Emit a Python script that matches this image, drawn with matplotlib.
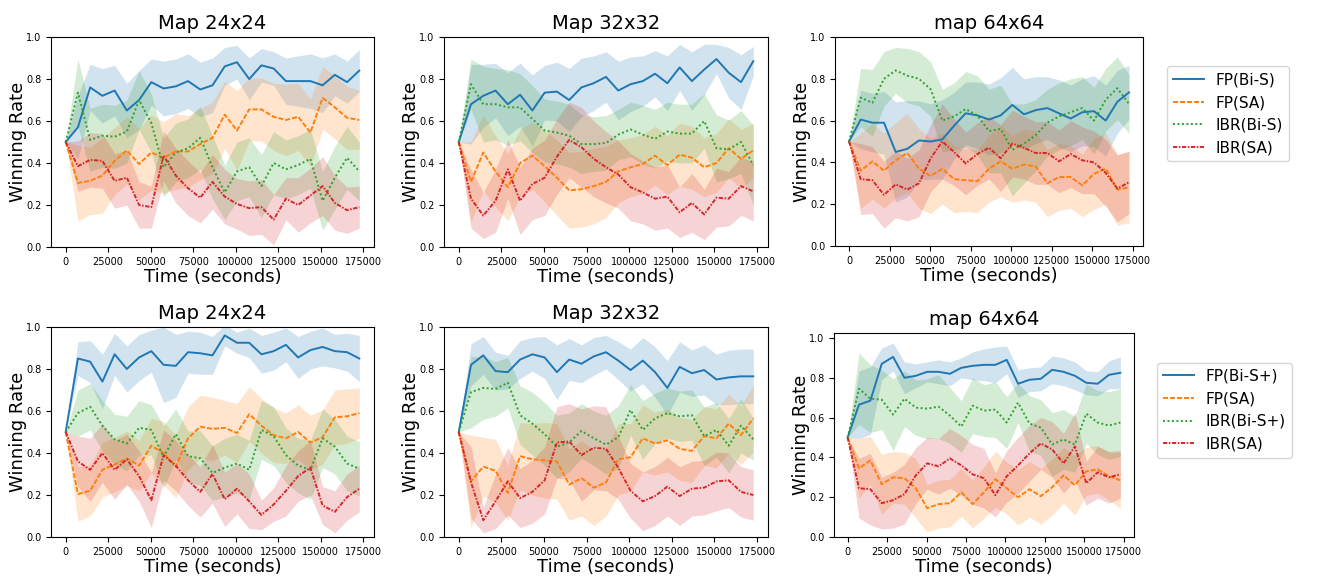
import matplotlib
matplotlib.use("Agg")
import matplotlib.pyplot as plt
import numpy as np

# time axis: one sample every 2 hours, 0 .. 48h
time_s = np.arange(25) * 7200

labels_top = ["FP(Bi-S)", "FP(SA)", "IBR(Bi-S)", "IBR(SA)"]
labels_bot = ["FP(Bi-S+)", "FP(SA)", "IBR(Bi-S+)", "IBR(SA)"]
titles = ["Map 24x24", "Map 32x32", "map 64x64"]

# ---- top row, Map 24x24 ----
t24_fp_bis = [0.5, 0.57, 0.76, 0.72, 0.745, 0.65, 0.70, 0.785, 0.755, 0.765, 0.79, 0.75, 0.77,
              0.86, 0.88, 0.80, 0.865, 0.85, 0.79, 0.79, 0.79, 0.77, 0.82, 0.785, 0.84]
t24_fp_bis_err = [0, 0.15, 0.11, 0.13, 0.12, 0.13, 0.14, 0.11, 0.13, 0.13, 0.13, 0.13, 0.13,
                  0.09, 0.08, 0.10, 0.08, 0.08, 0.11, 0.12, 0.13, 0.13, 0.10, 0.10, 0.10]
t24_fp_sa = [0.5, 0.305, 0.315, 0.34, 0.41, 0.46, 0.395, 0.45, 0.425, 0.455, 0.455, 0.49, 0.52,
             0.63, 0.555, 0.655, 0.655, 0.62, 0.605, 0.62, 0.545, 0.71, 0.665, 0.615, 0.605]
t24_fp_sa_err = [0, 0.18, 0.16, 0.18, 0.16, 0.16, 0.17, 0.18, 0.17, 0.18, 0.17, 0.17, 0.17,
                 0.16, 0.19, 0.15, 0.15, 0.16, 0.17, 0.16, 0.16, 0.15, 0.15, 0.15, 0.14]
t24_ibr_bis = [0.5, 0.735, 0.51, 0.53, 0.525, 0.55, 0.70, 0.59, 0.38, 0.45, 0.47, 0.52, 0.38,
               0.26, 0.36, 0.38, 0.29, 0.40, 0.37, 0.39, 0.42, 0.22, 0.33, 0.425, 0.36]
t24_ibr_bis_err = [0, 0.16, 0.15, 0.15, 0.15, 0.15, 0.14, 0.14, 0.14, 0.14, 0.14, 0.15, 0.15,
                   0.13, 0.14, 0.14, 0.15, 0.15, 0.14, 0.14, 0.14, 0.14, 0.15, 0.15, 0.14]
t24_ibr_sa = [0.5, 0.385, 0.415, 0.41, 0.315, 0.33, 0.20, 0.19, 0.435, 0.34, 0.28, 0.235, 0.31,
              0.24, 0.205, 0.185, 0.19, 0.13, 0.23, 0.20, 0.245, 0.29, 0.21, 0.175, 0.19]
t24_ibr_sa_err = [0, 0.12, 0.13, 0.13, 0.13, 0.13, 0.11, 0.10, 0.12, 0.13, 0.13, 0.12, 0.13,
                  0.13, 0.12, 0.13, 0.13, 0.12, 0.10, 0.13, 0.13, 0.14, 0.13, 0.11, 0.10]

# ---- top row, Map 32x32 ----
t32_fp_bis = [0.5, 0.68, 0.72, 0.745, 0.68, 0.725, 0.65, 0.735, 0.74, 0.70, 0.76, 0.78, 0.81,
              0.745, 0.775, 0.79, 0.825, 0.78, 0.855, 0.79, 0.845, 0.895, 0.83, 0.785, 0.885]
t32_fp_bis_err = [0, 0.19, 0.15, 0.13, 0.15, 0.15, 0.17, 0.13, 0.14, 0.15, 0.14, 0.13, 0.12,
                  0.14, 0.13, 0.12, 0.11, 0.13, 0.11, 0.14, 0.12, 0.07, 0.12, 0.13, 0.07]
t32_fp_sa = [0.5, 0.31, 0.45, 0.36, 0.285, 0.40, 0.435, 0.385, 0.33, 0.27, 0.275, 0.29, 0.31,
             0.36, 0.38, 0.395, 0.435, 0.39, 0.44, 0.425, 0.38, 0.40, 0.47, 0.42, 0.46]
t32_fp_sa_err = [0, 0.19, 0.18, 0.17, 0.16, 0.16, 0.16, 0.17, 0.18, 0.18, 0.18, 0.18, 0.17,
                 0.15, 0.14, 0.14, 0.14, 0.14, 0.15, 0.15, 0.14, 0.14, 0.14, 0.14, 0.13]
t32_ibr_bis = [0.5, 0.775, 0.68, 0.68, 0.665, 0.665, 0.61, 0.555, 0.545, 0.53, 0.49, 0.49, 0.495,
               0.535, 0.56, 0.535, 0.515, 0.55, 0.54, 0.54, 0.60, 0.47, 0.465, 0.50, 0.39]
t32_ibr_bis_err = [0, 0.12, 0.18, 0.17, 0.18, 0.16, 0.16, 0.15, 0.15, 0.15, 0.14, 0.13, 0.13,
                   0.12, 0.13, 0.14, 0.14, 0.14, 0.14, 0.14, 0.13, 0.16, 0.14, 0.15, 0.19]
t32_ibr_sa = [0.5, 0.23, 0.15, 0.22, 0.37, 0.22, 0.30, 0.33, 0.43, 0.51, 0.475, 0.42, 0.38,
              0.345, 0.285, 0.26, 0.23, 0.24, 0.165, 0.21, 0.155, 0.235, 0.23, 0.29, 0.265]
t32_ibr_sa_err = [0, 0.14, 0.11, 0.15, 0.14, 0.16, 0.17, 0.18, 0.18, 0.18, 0.19, 0.18, 0.17,
                  0.16, 0.16, 0.15, 0.15, 0.15, 0.12, 0.14, 0.12, 0.14, 0.13, 0.14, 0.14]

# ---- top row, map 64x64 ----
t64_fp_bis = [0.5, 0.605, 0.59, 0.59, 0.45, 0.465, 0.505, 0.50, 0.51, 0.575, 0.635, 0.625, 0.605,
              0.625, 0.675, 0.63, 0.65, 0.66, 0.635, 0.61, 0.64, 0.645, 0.60, 0.69, 0.735]
t64_fp_bis_err = [0, 0.14, 0.14, 0.15, 0.24, 0.23, 0.19, 0.18, 0.19, 0.16, 0.15, 0.16, 0.17,
                  0.18, 0.18, 0.17, 0.16, 0.15, 0.16, 0.16, 0.16, 0.17, 0.17, 0.15, 0.13]
t64_fp_sa = [0.5, 0.36, 0.405, 0.36, 0.41, 0.445, 0.37, 0.335, 0.37, 0.32, 0.315, 0.31, 0.37,
             0.405, 0.37, 0.39, 0.38, 0.30, 0.33, 0.33, 0.29, 0.345, 0.37, 0.27, 0.28]
t64_fp_sa_err = [0, 0.18, 0.18, 0.18, 0.18, 0.19, 0.19, 0.18, 0.17, 0.16, 0.15, 0.15, 0.16,
                 0.17, 0.16, 0.17, 0.17, 0.16, 0.16, 0.15, 0.15, 0.17, 0.17, 0.17, 0.17]
t64_ibr_bis = [0.5, 0.71, 0.685, 0.80, 0.84, 0.815, 0.80, 0.75, 0.60, 0.62, 0.655, 0.625, 0.55,
               0.56, 0.46, 0.49, 0.53, 0.59, 0.62, 0.64, 0.66, 0.60, 0.70, 0.755, 0.68]
t64_ibr_bis_err = [0, 0.14, 0.16, 0.13, 0.11, 0.13, 0.13, 0.13, 0.15, 0.16, 0.18, 0.19, 0.20,
                   0.21, 0.22, 0.19, 0.17, 0.16, 0.16, 0.16, 0.15, 0.16, 0.15, 0.15, 0.14]
t64_ibr_sa = [0.5, 0.32, 0.315, 0.245, 0.295, 0.27, 0.30, 0.42, 0.50, 0.45, 0.395, 0.44, 0.47,
              0.42, 0.49, 0.47, 0.445, 0.445, 0.405, 0.44, 0.41, 0.40, 0.35, 0.275, 0.305]
t64_ibr_sa_err = [0, 0.17, 0.16, 0.16, 0.16, 0.15, 0.16, 0.16, 0.18, 0.16, 0.15, 0.15, 0.15,
                  0.16, 0.16, 0.15, 0.15, 0.15, 0.15, 0.16, 0.16, 0.15, 0.16, 0.16, 0.15]

# ---- bottom row, Map 24x24 ----
b24_fp_bis = [0.5, 0.85, 0.835, 0.74, 0.87, 0.80, 0.855, 0.885, 0.82, 0.815, 0.88, 0.875, 0.865,
              0.96, 0.925, 0.925, 0.87, 0.885, 0.915, 0.855, 0.89, 0.905, 0.885, 0.88, 0.85]
b24_fp_bis_err = [0, 0.08, 0.10, 0.13, 0.10, 0.11, 0.11, 0.10, 0.18, 0.15, 0.10, 0.10, 0.09,
                  0.05, 0.05, 0.07, 0.09, 0.09, 0.08, 0.10, 0.09, 0.09, 0.08, 0.09, 0.11]
b24_fp_sa = [0.5, 0.205, 0.22, 0.32, 0.345, 0.375, 0.34, 0.435, 0.40, 0.335, 0.47, 0.525, 0.515,
             0.52, 0.495, 0.585, 0.53, 0.485, 0.47, 0.50, 0.45, 0.475, 0.57, 0.575, 0.59]
b24_fp_sa_err = [0, 0.13, 0.12, 0.13, 0.13, 0.13, 0.12, 0.13, 0.15, 0.15, 0.15, 0.15, 0.15,
                 0.13, 0.14, 0.13, 0.13, 0.13, 0.12, 0.13, 0.13, 0.13, 0.13, 0.13, 0.12]
b24_ibr_bis = [0.5, 0.59, 0.62, 0.53, 0.465, 0.445, 0.52, 0.51, 0.38, 0.49, 0.385, 0.375, 0.305,
               0.33, 0.35, 0.32, 0.51, 0.48, 0.39, 0.34, 0.32, 0.47, 0.43, 0.35, 0.325]
b24_ibr_bis_err = [0, 0.11, 0.11, 0.12, 0.12, 0.13, 0.13, 0.12, 0.15, 0.12, 0.12, 0.13, 0.13,
                   0.14, 0.14, 0.14, 0.14, 0.14, 0.13, 0.13, 0.14, 0.14, 0.13, 0.13, 0.13]
b24_ibr_sa = [0.5, 0.36, 0.32, 0.40, 0.32, 0.37, 0.29, 0.175, 0.39, 0.34, 0.27, 0.215, 0.30,
              0.18, 0.23, 0.17, 0.105, 0.155, 0.22, 0.29, 0.33, 0.15, 0.12, 0.19, 0.23]
b24_ibr_sa_err = [0, 0.12, 0.15, 0.14, 0.14, 0.12, 0.12, 0.13, 0.12, 0.12, 0.12, 0.12, 0.14,
                  0.13, 0.12, 0.13, 0.07, 0.08, 0.12, 0.12, 0.13, 0.09, 0.10, 0.11, 0.11]

# ---- bottom row, Map 32x32 ----
b32_fp_bis = [0.5, 0.82, 0.865, 0.79, 0.785, 0.845, 0.87, 0.855, 0.785, 0.845, 0.825, 0.86, 0.88,
              0.84, 0.795, 0.84, 0.785, 0.71, 0.81, 0.78, 0.795, 0.75, 0.76, 0.765, 0.765]
b32_fp_bis_err = [0, 0.10, 0.09, 0.09, 0.08, 0.09, 0.08, 0.10, 0.13, 0.10, 0.09, 0.09, 0.08,
                  0.09, 0.10, 0.11, 0.12, 0.13, 0.12, 0.11, 0.12, 0.12, 0.13, 0.13, 0.13]
b32_fp_sa = [0.5, 0.265, 0.335, 0.315, 0.21, 0.385, 0.37, 0.365, 0.36, 0.25, 0.28, 0.235, 0.26,
             0.37, 0.38, 0.47, 0.445, 0.46, 0.42, 0.41, 0.48, 0.47, 0.54, 0.485, 0.565]
b32_fp_sa_err = [0, 0.22, 0.14, 0.15, 0.13, 0.16, 0.17, 0.18, 0.18, 0.17, 0.18, 0.18, 0.16,
                 0.17, 0.16, 0.16, 0.15, 0.15, 0.15, 0.15, 0.14, 0.14, 0.14, 0.14, 0.16]
b32_ibr_bis = [0.5, 0.69, 0.71, 0.705, 0.735, 0.58, 0.54, 0.49, 0.43, 0.45, 0.505, 0.47, 0.44,
               0.475, 0.605, 0.51, 0.565, 0.59, 0.575, 0.58, 0.48, 0.51, 0.435, 0.53, 0.465]
b32_ibr_bis_err = [0, 0.17, 0.15, 0.13, 0.12, 0.14, 0.15, 0.15, 0.15, 0.14, 0.13, 0.13, 0.14,
                   0.15, 0.12, 0.14, 0.12, 0.12, 0.12, 0.12, 0.14, 0.13, 0.13, 0.13, 0.10]
b32_ibr_sa = [0.5, 0.26, 0.08, 0.17, 0.265, 0.185, 0.215, 0.27, 0.45, 0.455, 0.39, 0.425, 0.42,
              0.33, 0.22, 0.17, 0.195, 0.24, 0.195, 0.23, 0.235, 0.265, 0.27, 0.215, 0.20]
b32_ibr_sa_err = [0, 0.17, 0.06, 0.13, 0.16, 0.14, 0.15, 0.16, 0.17, 0.18, 0.22, 0.20, 0.20,
                  0.15, 0.13, 0.14, 0.14, 0.14, 0.14, 0.13, 0.13, 0.14, 0.13, 0.12, 0.12]

# ---- bottom row, map 64x64 ----
b64_fp_bis = [0.5, 0.665, 0.685, 0.87, 0.905, 0.80, 0.81, 0.83, 0.83, 0.82, 0.85, 0.86, 0.865,
              0.865, 0.89, 0.77, 0.79, 0.795, 0.84, 0.83, 0.81, 0.775, 0.77, 0.815, 0.825]
b64_fp_bis_err = [0, 0.17, 0.17, 0.08, 0.07, 0.08, 0.06, 0.05, 0.06, 0.06, 0.05, 0.07, 0.08,
                  0.09, 0.07, 0.07, 0.06, 0.06, 0.07, 0.07, 0.07, 0.06, 0.06, 0.07, 0.08]
b64_fp_sa = [0.5, 0.345, 0.385, 0.265, 0.30, 0.295, 0.245, 0.145, 0.165, 0.17, 0.225, 0.165, 0.225,
             0.29, 0.245, 0.20, 0.24, 0.205, 0.25, 0.31, 0.26, 0.33, 0.34, 0.305, 0.285]
b64_fp_sa_err = [0, 0.15, 0.12, 0.15, 0.13, 0.13, 0.15, 0.12, 0.12, 0.12, 0.12, 0.12, 0.13,
                 0.14, 0.13, 0.14, 0.14, 0.14, 0.14, 0.14, 0.15, 0.12, 0.12, 0.12, 0.14]
b64_ibr_bis = [0.5, 0.745, 0.695, 0.69, 0.615, 0.695, 0.65, 0.645, 0.655, 0.61, 0.555, 0.66, 0.635,
               0.64, 0.575, 0.675, 0.57, 0.55, 0.465, 0.49, 0.465, 0.62, 0.575, 0.56, 0.575]
b64_ibr_bis_err = [0, 0.18, 0.17, 0.15, 0.18, 0.14, 0.14, 0.15, 0.16, 0.14, 0.13, 0.14, 0.13,
                   0.14, 0.13, 0.10, 0.14, 0.14, 0.16, 0.15, 0.14, 0.15, 0.16, 0.17, 0.17]
b64_ibr_sa = [0.5, 0.245, 0.24, 0.17, 0.185, 0.215, 0.31, 0.37, 0.355, 0.395, 0.36, 0.315, 0.295,
              0.21, 0.305, 0.36, 0.42, 0.47, 0.44, 0.37, 0.455, 0.27, 0.325, 0.30, 0.315]
b64_ibr_sa_err = [0, 0.15, 0.18, 0.13, 0.14, 0.15, 0.14, 0.13, 0.14, 0.15, 0.15, 0.15, 0.15,
                  0.11, 0.13, 0.14, 0.14, 0.13, 0.14, 0.15, 0.17, 0.11, 0.13, 0.13, 0.12]

panels = [
    [(t24_fp_bis, t24_fp_bis_err), (t24_fp_sa, t24_fp_sa_err), (t24_ibr_bis, t24_ibr_bis_err), (t24_ibr_sa, t24_ibr_sa_err)],
    [(t32_fp_bis, t32_fp_bis_err), (t32_fp_sa, t32_fp_sa_err), (t32_ibr_bis, t32_ibr_bis_err), (t32_ibr_sa, t32_ibr_sa_err)],
    [(t64_fp_bis, t64_fp_bis_err), (t64_fp_sa, t64_fp_sa_err), (t64_ibr_bis, t64_ibr_bis_err), (t64_ibr_sa, t64_ibr_sa_err)],
    [(b24_fp_bis, b24_fp_bis_err), (b24_fp_sa, b24_fp_sa_err), (b24_ibr_bis, b24_ibr_bis_err), (b24_ibr_sa, b24_ibr_sa_err)],
    [(b32_fp_bis, b32_fp_bis_err), (b32_fp_sa, b32_fp_sa_err), (b32_ibr_bis, b32_ibr_bis_err), (b32_ibr_sa, b32_ibr_sa_err)],
    [(b64_fp_bis, b64_fp_bis_err), (b64_fp_sa, b64_fp_sa_err), (b64_ibr_bis, b64_ibr_bis_err), (b64_ibr_sa, b64_ibr_sa_err)],
]

colors = ["#1f77b4", "#ff7f0e", "#2ca02c", "#d62728"]
# tighter dash patterns than the defaults, like the original figure
styles = ["-", (0, (2.6, 1.0)), (0, (1.0, 1.3)), (0, (2.2, 0.8, 0.8, 0.8))]

W, H = 1326, 577
# axes boxes in pixels: left, top, width, height
boxes = [(51, 37, 323, 210), (444, 37, 324, 210), (835, 37, 308, 209),
         (51, 327, 323, 210), (444, 327, 324, 210), (834, 333, 300, 204)]

fig = plt.figure(figsize=(W / 100, H / 100), dpi=100)

for k, (l, t, w, h) in enumerate(boxes):
    ax = fig.add_axes([l / W, 1 - (t + h) / H, w / W, h / H])
    names = labels_top if k < 3 else labels_bot
    for j, (mean, err) in enumerate(panels[k]):
        m = np.array(mean)
        e = np.array(err)
        ax.fill_between(time_s, m - e, m + e, color=colors[j], alpha=0.2, linewidth=0)
        ax.plot(time_s, m, color=colors[j], linestyle=styles[j], linewidth=1.4, label=names[j])
    ax.set_title(titles[k % 3], fontsize=14)
    ax.set_xlabel("Time (seconds)", fontsize=13, labelpad=1)
    ax.set_ylabel("Winning Rate", fontsize=13, labelpad=-1)
    ax.tick_params(labelsize=7)
    ax.set_xticks([0, 25000, 50000, 75000, 100000, 125000, 150000, 175000])
    if k == 5:
        ax.set_ylim(0, 1.025)
    else:
        ax.set_ylim(0, 1.0)
    if k == 2:
        ax.legend(loc="upper left", bbox_to_anchor=(1.078, 0.86), borderaxespad=0, fontsize=11)
    if k == 5:
        ax.legend(loc="upper left", bbox_to_anchor=(1.077, 0.855), borderaxespad=0, fontsize=11)

fig.savefig("out.png", dpi=100)
